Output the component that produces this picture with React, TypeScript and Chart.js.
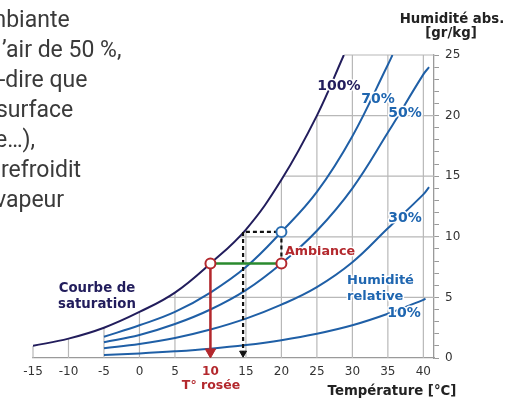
import { useEffect, useRef } from 'react';
import { Chart, registerables } from 'chart.js';

Chart.register(...registerables);

// ---- axes ----
const temperatureTicks = [-15, -10, -5, 0, 5, 10, 15, 20, 25, 30, 35, 40];
const humidityTicks = [0, 1, 2, 3, 4, 5, 6, 7, 8, 9, 10, 11, 12, 13, 14, 15, 16, 17, 18, 19, 20, 21, 22, 23, 24, 25];
const humidityLabelled = [0, 5, 10, 15, 20, 25];
const humidityGrid = [5, 10, 15, 20, 25];

// ---- curves (absolute humidity g/kg vs temperature °C) ----
const saturationTemps = [-15, -10, -5, 0, 5, 10, 15, 20, 25, 28.8];
const saturation100 = [1.0, 1.6, 2.5, 3.8, 5.4, 7.8, 10.6, 14.7, 20.0, 25.0];
const rh70Temps = [-5, 0, 5, 10, 15, 20, 25, 30, 35, 35.65];
const rh70 = [1.75, 2.7, 3.8, 5.4, 7.5, 10.4, 13.7, 18.3, 24.2, 25.0];
const rh50Temps = [-5, 0, 5, 10, 15, 20, 25, 30, 35, 40, 40.8];
const rh50 = [1.3, 1.9, 2.8, 4.0, 5.6, 7.8, 10.5, 14.0, 18.6, 23.4, 24.0];
const rh30Temps = [-5, 0, 5, 10, 15, 20, 25, 30, 35, 40, 40.8];
const rh30 = [0.8, 1.15, 1.65, 2.35, 3.25, 4.4, 5.85, 7.9, 10.7, 13.5, 14.1];
const rh10Temps = [-5, 0, 5, 10, 15, 20, 25, 30, 35, 40, 40.3];
const rh10 = [0.25, 0.38, 0.55, 0.77, 1.07, 1.47, 2.0, 2.7, 3.65, 4.8, 4.9];

// ---- annotation marks ----
const dewDropTemps = [10, 10];
const dewDropHum = [7.8, 0.5];
const coolingTemps = [10, 20];
const coolingHum = [7.8, 7.8];
const dashedTemps = [20, 20, 14.6, 14.6];
const dashedHum = [7.8, 10.4, 10.4, 0.4];
const redPointTemps = [10, 20];
const redPointHum = [7.8, 7.8];
const bluePointTemps = [20];
const bluePointHum = [10.4];

const paragraphLines = [
  { text: 'mbiante', shift: -14 },
  { text: '\u2019air de 50 %,', shift: 2 },
  { text: '-dire que', shift: -1 },
  { text: 'surface', shift: -4 },
  { text: 'e\u2026),', shift: -5 },
  { text: 'refroidit', shift: 1 },
  { text: 'vapeur', shift: -5 },
];

const NAVY = '#221d5c';
const BLUE = '#1f5fa6';
const BLUE_TEXT = '#1f66b0';
const RED = '#b3282d';
const GREEN = '#2a8a2e';
const GRID = '#b8b8b8';
const AXIS = '#9a9a9a';
const FONT = '"DejaVu Sans", Verdana, sans-serif';

const pts = (xs: number[], ys: number[]) => xs.map((x, i) => ({ x, y: ys[i] }));

type Lbl = { text: string; x: number; y: number; color: string; size: number; align?: CanvasTextAlign };
const chartLabels: Lbl[] = [
  { text: '100%', x: 339, y: 86, color: NAVY, size: 14 },
  { text: '70%', x: 378, y: 99, color: BLUE_TEXT, size: 14 },
  { text: '50%', x: 405, y: 113, color: BLUE_TEXT, size: 14 },
  { text: '30%', x: 405, y: 218, color: BLUE_TEXT, size: 14 },
  { text: 'Humidité', x: 347, y: 281, color: BLUE_TEXT, size: 13, align: 'left' },
  { text: 'relative', x: 347, y: 297, color: BLUE_TEXT, size: 13, align: 'left' },
  { text: '10%', x: 404, y: 313, color: BLUE_TEXT, size: 14 },
  { text: 'Ambiance', x: 320, y: 252, color: RED, size: 12.7 },
  { text: 'Courbe de', x: 97, y: 289, color: NAVY, size: 13.3 },
  { text: 'saturation', x: 97, y: 305, color: NAVY, size: 13.3 },
  { text: 'T° rosée', x: 211, y: 386, color: RED, size: 12.5 },
  { text: 'Température [°C]', x: 392, y: 392, color: '#222', size: 13.3 },
  { text: 'Humidité abs.', x: 452, y: 20, color: '#222', size: 13.3 },
  { text: '[gr/kg]', x: 451, y: 34, color: '#222', size: 13.3 },
];

const SAT_INDEX = 5;

const clippedGrid = {
  id: 'clippedGrid',
  beforeDatasetsDraw(chart: any) {
    const { ctx, chartArea } = chart;
    const xs = chart.scales.x;
    const ys = chart.scales.y;
    const meta = chart.getDatasetMeta(SAT_INDEX);
    const line: any = meta.dataset;
    const data: any[] = meta.data;
    if (!data.length) return;
    ctx.save();
    ctx.beginPath();
    let ok = false;
    try {
      if (line && typeof line.updateControlPoints === 'function') line.updateControlPoints(chartArea, 'x');
      if (line && typeof line.path === 'function') {
        line.path(ctx);
        ok = true;
      }
    } catch (e) {
      ok = false;
    }
    if (!ok) {
      ctx.beginPath();
      data.forEach((p, i) => (i === 0 ? ctx.moveTo(p.x, p.y) : ctx.lineTo(p.x, p.y)));
    }
    const first = data[0];
    const last = data[data.length - 1];
    ctx.lineTo(last.x, chartArea.top - 3);
    ctx.lineTo(chartArea.right + 3, chartArea.top - 3);
    ctx.lineTo(chartArea.right + 3, chartArea.bottom + 3);
    ctx.lineTo(chartArea.left - 3, chartArea.bottom + 3);
    ctx.lineTo(chartArea.left - 3, first.y);
    ctx.closePath();
    ctx.clip();
    ctx.strokeStyle = GRID;
    ctx.lineWidth = 1.2;
    ctx.beginPath();
    for (const t of temperatureTicks) {
      const px = xs.getPixelForValue(t);
      ctx.moveTo(px, chartArea.bottom);
      ctx.lineTo(px, chartArea.top);
    }
    for (const h of humidityGrid) {
      const py = ys.getPixelForValue(h);
      ctx.moveTo(chartArea.left, py);
      ctx.lineTo(chartArea.right, py);
    }
    ctx.stroke();
    ctx.restore();
  },
};

const textLabels = {
  id: 'textLabels',
  afterDatasetsDraw(chart: any) {
    const { ctx } = chart;
    ctx.save();
    ctx.textBaseline = 'middle';
    for (const l of chartLabels) {
      ctx.font = `bold ${l.size}px ${FONT}`;
      ctx.textAlign = l.align || 'center';
      ctx.lineJoin = 'round';
      ctx.strokeStyle = '#ffffff';
      ctx.lineWidth = 3;
      ctx.strokeText(l.text, l.x, l.y);
      ctx.fillStyle = l.color;
      ctx.fillText(l.text, l.x, l.y);
    }
    ctx.restore();
  },
};

export default function App() {
  const ref = useRef<HTMLCanvasElement>(null);

  useEffect(() => {
    if (!ref.current) return;
    Chart.defaults.font.family = FONT;
    const curve = (label: string, xs: number[], ys: number[], color: string) => ({
      label,
      data: pts(xs, ys),
      borderColor: color,
      borderWidth: 2,
      pointRadius: 0,
      showLine: true,
      fill: false,
      tension: 0.4,
      order: 2,
    });
    const chart = new Chart(ref.current, {
      type: 'line',
      data: {
        datasets: [
          {
            label: 'Points rouges',
            data: pts(redPointTemps, redPointHum),
            showLine: false,
            pointRadius: 5,
            pointBorderWidth: 2,
            pointBackgroundColor: '#ffffff',
            pointBorderColor: RED,
            order: 0,
          },
          {
            label: 'Point bleu',
            data: pts(bluePointTemps, bluePointHum),
            showLine: false,
            pointRadius: 5,
            pointBorderWidth: 2,
            pointBackgroundColor: '#ffffff',
            pointBorderColor: '#2a6db0',
            order: 0,
          },
          {
            label: 'Rosée',
            data: pts(dewDropTemps, dewDropHum),
            borderColor: RED,
            borderWidth: 2.5,
            tension: 0,
            pointRadius: [0, 6],
            pointStyle: 'triangle',
            pointRotation: 180,
            pointBackgroundColor: RED,
            pointBorderColor: RED,
            pointBorderWidth: 1,
            order: 1,
          },
          {
            label: 'Refroidissement',
            data: pts(coolingTemps, coolingHum),
            borderColor: GREEN,
            borderWidth: 2.5,
            tension: 0,
            pointRadius: 0,
            order: 1,
          },
          {
            label: '70%',
            data: pts(dashedTemps, dashedHum),
            borderColor: '#111111',
            borderWidth: 2.2,
            borderDash: [4, 3],
            tension: 0,
            pointRadius: [0, 0, 0, 4],
            pointStyle: 'triangle',
            pointRotation: 180,
            pointBackgroundColor: '#111111',
            pointBorderColor: '#111111',
            pointBorderWidth: 1,
            order: 1,
          },
          curve('100%', saturationTemps, saturation100, NAVY),
          curve('70%', rh70Temps, rh70, BLUE),
          curve('50%', rh50Temps, rh50, BLUE),
          curve('30%', rh30Temps, rh30, BLUE),
          curve('10%', rh10Temps, rh10, BLUE),
        ] as any,
      },
      options: {
        responsive: false,
        animation: false,
        events: [],
        layout: { padding: { left: 33, top: 55, right: 0, bottom: 0 } },
        plugins: { legend: { display: false }, tooltip: { enabled: false } },
        scales: {
          x: {
            type: 'linear',
            min: -15,
            max: 41.5,
            afterBuildTicks: (s: any) => {
              s.ticks = temperatureTicks.map((v) => ({ value: v }));
            },
            afterFit: (s: any) => {
              s.height = 42;
            },
            grid: { display: false, drawTicks: false },
            border: { display: true, color: AXIS, width: 1.3 },
            ticks: {
              autoSkip: false,
              maxRotation: 0,
              padding: 7,
              callback: (v: any) => String(v),
              color: (c: any) => (c.tick && c.tick.value === 10 ? RED : '#333333'),
              font: (c: any) => ({
                family: FONT,
                size: 12,
                weight: c.tick && c.tick.value === 10 ? 'bold' : 'normal',
              }),
            },
          },
          y: {
            type: 'linear',
            position: 'right',
            min: 0,
            max: 25,
            afterBuildTicks: (s: any) => {
              s.ticks = humidityTicks.map((v) => ({ value: v }));
            },
            afterFit: (s: any) => {
              s.width = 71;
            },
            grid: { display: true, drawOnChartArea: false, drawTicks: true, tickLength: 5, color: AXIS, lineWidth: 1 },
            border: { display: true, color: AXIS, width: 1.3 },
            ticks: {
              autoSkip: false,
              padding: 6,
              color: '#333333',
              font: { family: FONT, size: 12 },
              callback: (v: any) => (humidityLabelled.includes(Number(v)) ? String(v) : ''),
            },
          },
        },
      } as any,
      plugins: [clippedGrid, textLabels],
    });
    return () => chart.destroy();
  }, []);

  return (
    <div
      style={{
        position: 'absolute',
        left: 0,
        top: 0,
        width: 505,
        height: 400,
        overflow: 'hidden',
        background: '#ffffff',
      }}
    >
      <canvas
        ref={ref}
        width={505}
        height={400}
        style={{ position: 'absolute', left: 0, top: 0, width: 505, height: 400 }}
      />
      <div
        style={{
          position: 'absolute',
          left: 0,
          top: 5,
          fontFamily: 'Roboto, "Noto Sans", sans-serif',
          fontSize: 23,
          lineHeight: '30px',
          color: '#3a3a3a',
          whiteSpace: 'nowrap',
        }}
      >
        {paragraphLines.map((l, i) => (
          <div key={i} style={{ position: 'relative', left: l.shift }}>
            {l.text}
          </div>
        ))}
      </div>
    </div>
  );
}
